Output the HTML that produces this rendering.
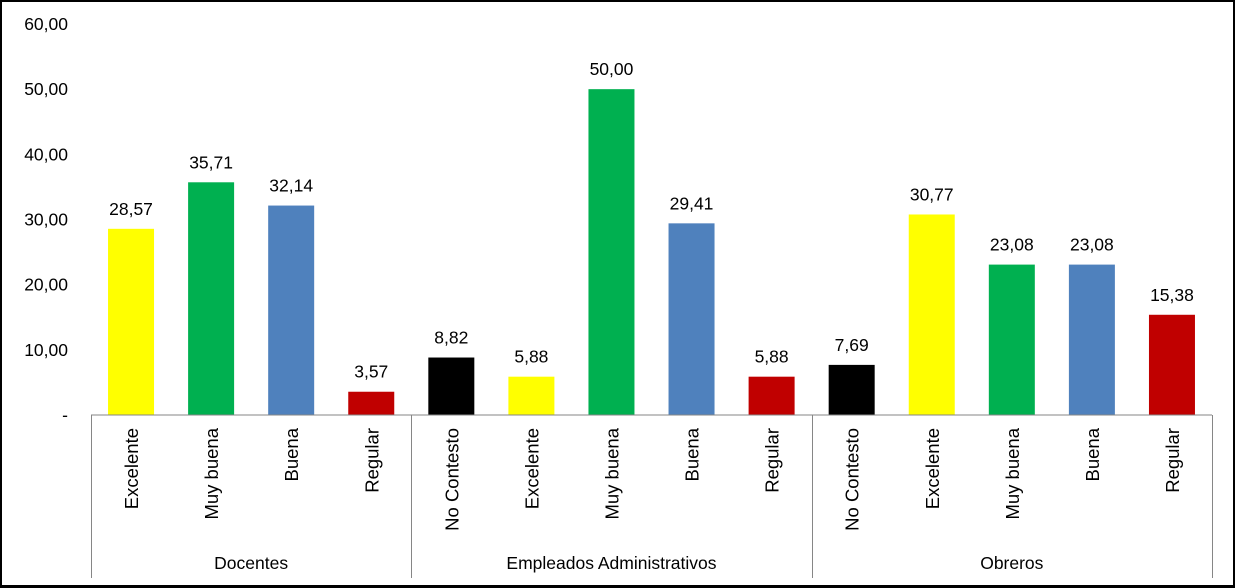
<!DOCTYPE html>
<html><head><meta charset="utf-8"><style>
html,body{margin:0;padding:0;background:#fff}
#wrap{position:relative;width:1235px;height:588px;box-sizing:border-box;border:2px solid #000;border-bottom-width:3px;overflow:hidden}
svg{position:absolute;left:-2px;top:-2px}
text{font-family:"Liberation Sans","DejaVu Sans",sans-serif;fill:#000}
</style></head><body>
<div id="wrap">
<svg id="chart" width="1235" height="588"></svg>
</div>
<script>
const groups = ["Docentes","Empleados Administrativos","Obreros"];
const groupSizes = [4,5,5];
const categories = ["Excelente","Muy buena","Buena","Regular","No Contesto","Excelente","Muy buena","Buena","Regular","No Contesto","Excelente","Muy buena","Buena","Regular"];
const values = [28.57,35.71,32.14,3.57,8.82,5.88,50.00,29.41,5.88,7.69,30.77,23.08,23.08,15.38];
const colors = ["#ffff00","#00b050","#4f81bd","#c00000","#000000","#ffff00","#00b050","#4f81bd","#c00000","#000000","#ffff00","#00b050","#4f81bd","#c00000"];
const yTicks = [0,10,20,30,40,50,60];
const yTickLabels = ["-","10,00","20,00","30,00","40,00","50,00","60,00"];

const NS="http://www.w3.org/2000/svg";
const svg=document.getElementById('chart');
const X0=91,X1=1212,Y0=415,Y1=24,YMAX=60;
const slot=(X1-X0)/categories.length;
const y=v=>Y0-(v/YMAX)*(Y0-Y1);
const xc=i=>X0+slot*(i+0.5);
function mk(t,a){const e=document.createElementNS(NS,t);for(const k in a)e.setAttribute(k,a[k]);svg.appendChild(e);return e;}

yTicks.forEach((t,i)=>{
  const e=mk('text',{x:68,y:y(t)+6,'text-anchor':'end','font-size':'17.5'});
  e.textContent=yTickLabels[i];
  
  
});

values.forEach((v,i)=>{
  const b=mk('rect',{x:xc(i)-23,y:y(v),width:46,height:Y0-y(v),fill:colors[i]});
  
  
  const l=mk('text',{x:xc(i),y:y(v)-14,'text-anchor':'middle','font-size':'17.5'});
  l.textContent=v.toFixed(2).replace('.',',');
  
  
  const c=mk('text',{x:0,y:0,'text-anchor':'end','font-size':'18.5',transform:`translate(${xc(i)+7},428) rotate(-90)`});
  c.textContent=categories[i];
  
  
});

const ax=mk('line',{x1:X0,y1:Y0,x2:X1,y2:Y0,stroke:'#868686','stroke-width':1});



let start=0;
const seps=[0];
groupSizes.forEach((n,g)=>{
  const cx=X0+slot*(start+n/2);
  const t=mk('text',{x:cx,y:569,'text-anchor':'middle','font-size':'17.5'});
  t.textContent=groups[g];
  
  
  start+=n;seps.push(start);
});
seps.forEach(s=>{
  const xx=Math.round(X0+slot*s)+0.5;
  const l=mk('line',{x1:xx,y1:Y0,x2:xx,y2:578,stroke:'#868686','stroke-width':1});
  
  
});
</script>
</body></html>
